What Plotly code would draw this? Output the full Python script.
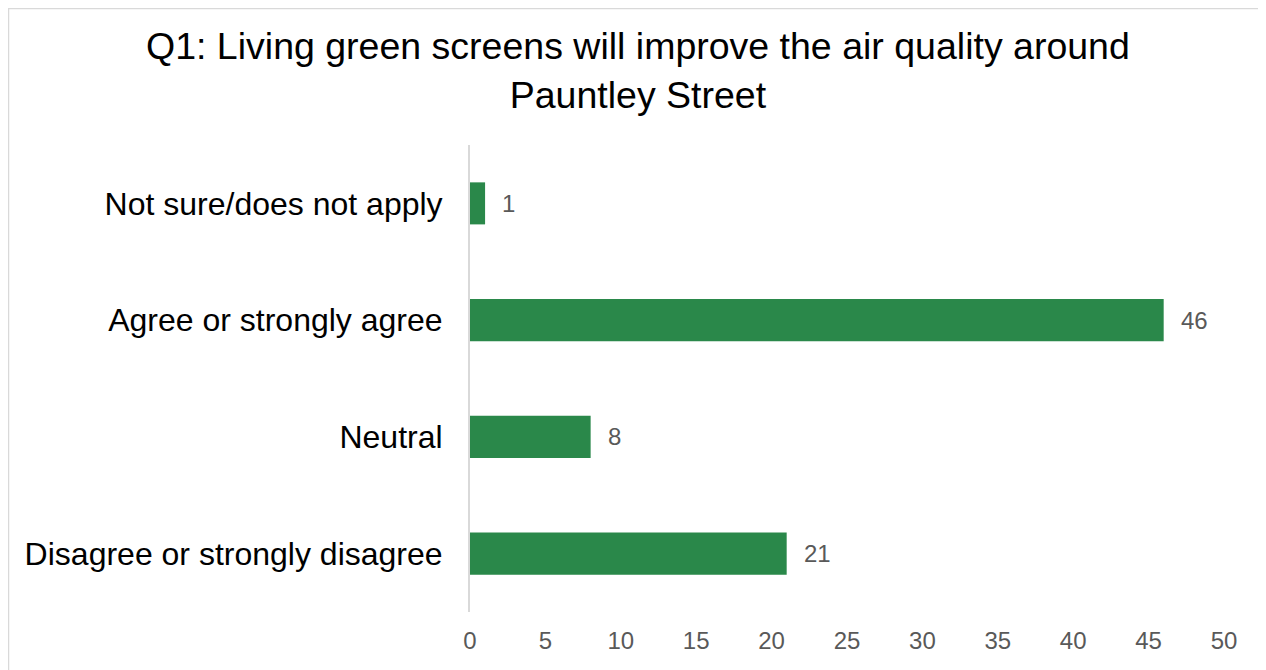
import plotly.graph_objects as go

categories = ["Disagree or strongly disagree", "Neutral", "Agree or strongly agree", "Not sure/does not apply"]
values = [21, 8, 46, 1]
x_ticks = [0, 5, 10, 15, 20, 25, 30, 35, 40, 45, 50]
title_text = "Q1: Living green screens will improve the air quality around<br>Pauntley Street"

W, H = 1258, 662
ml, mr, mt, mb = 462, 42, 137, 58
pw, ph = W - ml - mr, H - mt - mb
FONT = "Liberation Sans, Arial"

fig = go.Figure()
fig.add_trace(go.Bar(
    x=values, y=categories, orientation="h",
    marker=dict(color="#2a884a", line=dict(width=0)),
    width=0.36, hoverinfo="x+y",
))
for c, v in zip(categories, values):
    fig.add_annotation(x=v, y=c, text=str(v), showarrow=False, xanchor="left",
                       xshift=15, font=dict(family=FONT, size=24, color="#595959"))

def px_to_paper_x(p):
    return (p - ml) / pw

def px_to_paper_y(p):
    return (H - mb - p) / ph

fig.add_annotation(text=title_text, xref="paper", yref="paper",
                   x=px_to_paper_x(630), y=px_to_paper_y(62.5),
                   xanchor="center", yanchor="middle", showarrow=False,
                   font=dict(family=FONT, size=37.5, color="#000000"))

fig.add_shape(type="rect", xref="paper", yref="paper",
              x0=px_to_paper_x(0.5), x1=px_to_paper_x(1254),
              y0=px_to_paper_y(700), y1=px_to_paper_y(0.5),
              line=dict(color="#d9d9d9", width=1.5), fillcolor="rgba(0,0,0,0)", layer="below")

fig.update_layout(
    width=W, height=H,
    margin=dict(l=ml, r=mr, t=mt, b=mb),
    paper_bgcolor="white", plot_bgcolor="white",
    showlegend=False,
    font=dict(family=FONT, color="#000000"),
    xaxis=dict(range=[0, 50], tickvals=x_ticks, showgrid=False, zeroline=False,
               showline=False, ticks="", ticklabelstandoff=12,
               tickfont=dict(family=FONT, size=24, color="#595959")),
    yaxis=dict(categoryorder="array", categoryarray=categories, showgrid=False,
               zeroline=False, showline=True, linecolor="#d9d9d9", linewidth=2,
               ticks="", ticklabelstandoff=19,
               tickfont=dict(family=FONT, size=32, color="#000000")),
)

fig.write_html("out.html")
